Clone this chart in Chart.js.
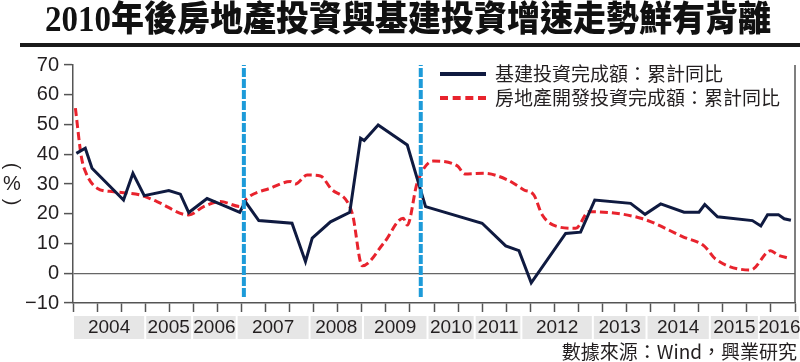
<!DOCTYPE html>
<html>
<head>
<meta charset="utf-8">
<script src="https://cdn.jsdelivr.net/npm/chart.js@4/dist/chart.umd.min.js"></script>
<style>
    body { margin: 0; background: #fff; }
    #wrap { position: relative; width: 800px; height: 362px; overflow: hidden; font-family: "Noto Sans CJK TC", "Liberation Sans", sans-serif; color: #231f20; }
    #chart { position: absolute; left: 0; top: 0; }
    #title { position: absolute; left: 45px; top: -2px; font-family: "Liberation Serif", "Noto Sans CJK TC", serif; font-weight: 900; font-size: 33px; line-height: 40px; white-space: nowrap; color: #111; transform: scaleY(1.08); transform-origin: top left; }
    #bar { position: absolute; left: 20px; top: 43px; width: 780px; height: 4px; background: #1a1a1a; }
    .leg { position: absolute; left: 440px; font-size: 19px; line-height: 24px; white-space: nowrap; }
    .leg i { display: inline-block; width: 46px; height: 0; margin-right: 9px; vertical-align: middle; position: relative; top: -2px; }
    #source { position: absolute; right: 3px; top: 340px; font-size: 19px; line-height: 22px; white-space: nowrap; }
</style>
</head>
<body>
<div id="wrap">
    <canvas id="chart" width="800" height="362"></canvas>
    <div id="title">2010年後房地產投資與基建投資增速走勢鮮有背離</div>
    <div id="bar"></div>
    <div class="leg" style="top:61px"><i style="border-top:4px solid #0f1a40"></i>基建投資完成額：累計同比</div>
    <div class="leg" style="top:85px"><i style="border-top:4px dashed #e8232d"></i>房地產開發投資完成額：累計同比</div>
    <div id="source">數據來源：Wind，興業研究</div>
</div>
<script>
// x positions are in tick units (31 ticks, 0..30)
const infraX = [0.14, 0.51, 0.79, 2.1, 2.49, 2.96, 3.98, 4.46, 4.81, 5.57, 6.2, 6.93, 7.16, 7.72, 9.1, 9.66, 9.94, 10.7, 11.5, 11.95, 12.1, 12.68, 13.89, 14.44, 14.65, 17.0, 17.98, 18.53, 19.04, 20.47, 21.09, 21.68, 23.17, 23.77, 24.42, 25.39, 26.01, 26.25, 26.78, 28.23, 28.58, 28.86, 29.31, 29.55, 29.83];
const infraY = [40.3, 42.0, 35.3, 24.6, 33.6, 26.1, 27.8, 26.6, 20.4, 25.1, 23.0, 20.5, 24.1, 17.7, 16.8, 3.9, 11.8, 17.3, 20.5, 45.4, 44.6, 49.8, 43.1, 28.0, 22.4, 16.8, 9.2, 7.6, -3.2, 13.4, 13.8, 24.6, 23.5, 19.8, 23.3, 20.5, 20.5, 23.1, 19.0, 17.7, 15.9, 19.7, 19.7, 18.3, 17.8];

const realX = [0.1, 0.35, 0.55, 1.0, 1.69, 2.8, 3.49, 4.81, 5.43, 6.12, 6.96, 7.23, 8.2, 9.03, 9.24, 9.73, 10.28, 10.7, 11.6, 12.02, 12.91, 13.72, 13.89, 14.3, 14.97, 15.97, 16.28, 17.07, 18.05, 18.74, 19.15, 19.5, 20.12, 20.89, 21.44, 23.59, 25.39, 26.22, 26.71, 28.16, 28.99, 29.27, 29.76];
const realY = [55.5, 39.0, 33.5, 28.6, 27.4, 26.3, 24.1, 19.6, 22.4, 24.1, 22.4, 25.2, 28.6, 30.8, 30.0, 33.0, 32.7, 28.6, 20.2, 2.5, 10.1, 18.5, 16.2, 30.3, 37.7, 36.1, 33.4, 33.6, 31.4, 28.0, 26.3, 19.6, 15.7, 15.1, 20.7, 18.5, 12.1, 9.2, 4.7, 1.1, 7.6, 6.2, 5.0];

// year labels and the band edges under the axis (tick units)
const yearLabels = ['2004', '2005', '2006', '2007', '2008', '2009', '2010', '2011', '2012', '2013', '2014', '2015', '2016'];
const yearEdges = [0, 3.0, 4.95, 6.8, 9.83, 12.05, 14.73, 16.69, 18.63, 21.6, 23.83, 26.46, 28.5, 30.2];

// dashed marker lines
const markerX = [7.1, 14.45];
const markerSpan = [-8, 70];

const yTicks = [-10, 0, 10, 20, 30, 40, 50, 60, 70];

function pairs(xs, ys) {
    return xs.map((x, i) => ({ x: x, y: ys[i] }));
}

const markerSets = markerX.map(x => ({
    data: markerSpan.map(y => ({ x: x, y: y })),
    borderColor: '#1d9bd9',
    borderWidth: 4,
    borderDash: [9, 2],
    pointRadius: 0
}));

const extras = {
    id: 'extras',
    afterDraw(chart) {
        const ctx = chart.ctx;
        const area = chart.chartArea;
        const xs = chart.scales.x;
        ctx.save();
        // right border
        ctx.strokeStyle = '#555';
        ctx.lineWidth = 1.5;
        ctx.beginPath();
        ctx.moveTo(area.right, area.top);
        ctx.lineTo(area.right, area.bottom);
        ctx.stroke();
        // year bands
        ctx.font = '19px "Liberation Sans", Arial, sans-serif';
        ctx.textAlign = 'center';
        ctx.textBaseline = 'middle';
        for (let i = 0; i < yearLabels.length; i++) {
            const x0 = xs.getPixelForValue(yearEdges[i]) + 1;
            const x1 = Math.min(xs.getPixelForValue(yearEdges[i + 1]) - 1, 799);
            ctx.fillStyle = '#e6e6e6';
            ctx.fillRect(x0, area.bottom + 13, x1 - x0, 23);
            ctx.fillStyle = '#231f20';
            ctx.fillText(yearLabels[i], (x0 + x1) / 2, area.bottom + 25);
        }
        // (%) vertical label
        ctx.font = '20px "Liberation Sans", Arial, sans-serif';
        ctx.fillText('%', 12, 184);
        ctx.translate(12, 166);
        ctx.rotate(Math.PI / 2);
        ctx.fillText('(', 0, 0);
        ctx.rotate(-Math.PI / 2);
        ctx.translate(0, 36);
        ctx.rotate(Math.PI / 2);
        ctx.fillText(')', 0, 0);
        ctx.restore();
    }
};

new Chart(document.getElementById('chart'), {
    type: 'line',
    data: {
        datasets: [
            ...markerSets,
            {
                label: '基建投資完成額：累計同比',
                data: pairs(infraX, infraY),
                borderColor: '#0f1a40',
                borderWidth: 3,
                pointRadius: 0,
                tension: 0
            },
            {
                label: '房地產開發投資完成額：累計同比',
                data: pairs(realX, realY),
                borderColor: '#e8232d',
                borderWidth: 3,
                borderDash: [8, 4],
                pointRadius: 0,
                cubicInterpolationMode: 'monotone'
            }
        ]
    },
    options: {
        responsive: false,
        animation: false,
        devicePixelRatio: 1,
        layout: { padding: { left: 0, right: 5, top: 65, bottom: 50 } },
        plugins: { legend: { display: false }, tooltip: { enabled: false } },
        scales: {
            x: {
                type: 'linear',
                min: 0,
                max: 30,
                afterFit: s => { s.height = 9; },
                ticks: { stepSize: 1, display: false },
                grid: { drawOnChartArea: false, tickLength: 9, tickColor: '#555', tickWidth: 1.5 },
                border: { color: '#555', width: 1.5 }
            },
            y: {
                min: -10,
                max: 70,
                afterFit: s => { s.width = 73; },
                afterBuildTicks: s => { s.ticks = yTicks.map(v => ({ value: v })); },
                ticks: {
                    color: '#231f20',
                    padding: 5,
                    font: { family: '"Liberation Sans", Arial, sans-serif', size: 20 },
                    callback: v => String(v).replace('-', '\u2212')
                },
                grid: {
                    color: c => (c.tick && c.tick.value === 0 ? '#666' : 'transparent'),
                    tickColor: '#555',
                    tickLength: 9,
                    lineWidth: 1.2,
                    tickWidth: 1.5
                },
                border: { color: '#555', width: 1.5 }
            }
        }
    },
    plugins: [extras]
});
</script>
</body>
</html>
